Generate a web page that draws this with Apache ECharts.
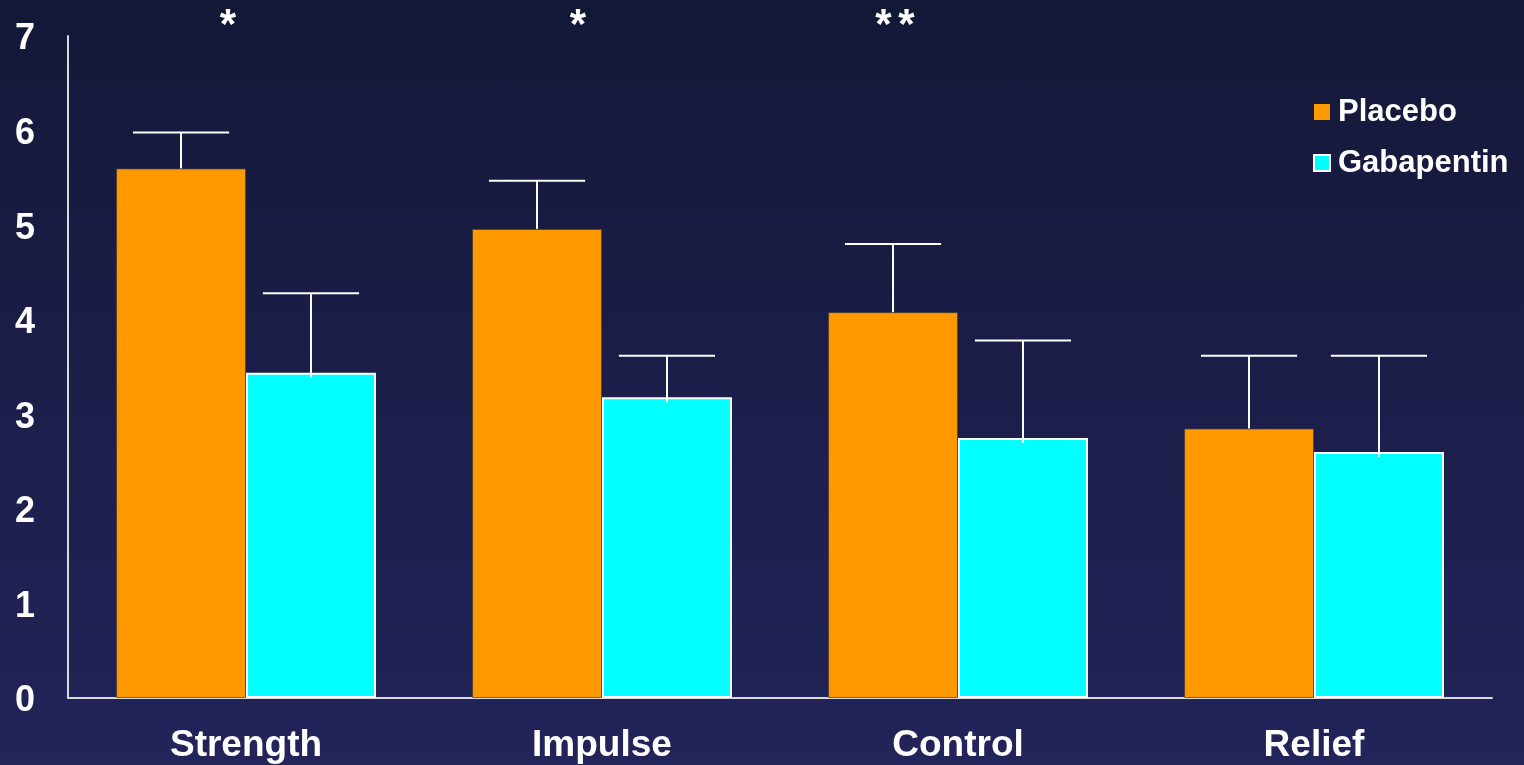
<!DOCTYPE html>
<html>
<head>
<meta charset="utf-8">
<title>Placebo vs Gabapentin</title>
<script src="https://cdn.jsdelivr.net/npm/echarts@6/dist/echarts.min.js"></script>
<style>
  html, body { margin: 0; padding: 0; }
  body { background: linear-gradient(to bottom, #141837 0%, #22245a 100%); }
  #chart { width: 1524px; height: 765px; }
</style>
</head>
<body>
<div id="chart"></div>
<script>
// Category labels and series values
const categories = ['Strength', 'Impulse', 'Control', 'Relief'];
const placebo = [5.6, 4.96, 4.08, 2.85];
const placeboErr = [0.38, 0.51, 0.72, 0.77];
const gabapentin = [3.44, 3.18, 2.75, 2.60];
const gabapentinErr = [0.84, 0.44, 1.03, 1.02];
const significance = ['*', '*', '**', ''];
const yTicks = [0, 1, 2, 3, 4, 5, 6, 7];

const FONT = "'Liberation Sans', Arial, Helvetica, sans-serif";
const BAR_FRAC = 0.365;            // bar width as a share of the category band
const STAR_SHIFT = [-18, -24, -63, 0]; // horizontal nudge of each significance mark
const STAR_STEP = 23;              // spacing between repeated stars

const chart = echarts.init(document.getElementById('chart'), null, { renderer: 'canvas' });

// Error bar drawn above a bar: stem from the mean to the upper limit, plus a cap
function errorBar(sideSign) {
  return function (params, api) {
    const cat = api.value(0);
    const top = api.coord([cat, api.value(2)]);
    const base = api.coord([cat, api.value(1)]);
    const band = api.size([1, 0])[0];
    const bw = band * BAR_FRAC;
    const cx = top[0] + sideSign * bw / 2;
    const cap = bw * 0.37;
    const style = { stroke: '#ffffff', lineWidth: 2 };
    return {
      type: 'group',
      children: [
        { type: 'line', shape: { x1: cx, y1: base[1] + (sideSign > 0 ? 5 : 0), x2: cx, y2: top[1] }, style },
        { type: 'line', shape: { x1: cx - cap, y1: top[1], x2: cx + cap, y2: top[1] }, style }
      ]
    };
  };
}

const placeboErrData = placebo.map((v, i) => [i, v, +(v + placeboErr[i]).toFixed(2)]);
const gabaErrData = gabapentin.map((v, i) => [i, v, +(v + gabapentinErr[i]).toFixed(2)]);
const starData = significance.map((s, i) => [i, 7]);

chart.setOption({
  backgroundColor: 'transparent',
  animation: false,
  grid: { left: 68, right: 32, top: 36, bottom: 67, containLabel: false },
  legend: {
    orient: 'vertical',
    left: 1313,
    top: 96,
    padding: 0,
    icon: 'rect',
    itemWidth: 16,
    itemHeight: 16,
    itemGap: 19,
    textStyle: { color: '#ffffff', fontFamily: FONT, fontWeight: 'bold', fontSize: 31, lineHeight: 32, padding: [0, 0, 0, 3] },
    data: [
      { name: 'Placebo', itemStyle: { borderWidth: 0 } },
      { name: 'Gabapentin', itemStyle: { borderColor: '#ffffff', borderWidth: 2 } }
    ]
  },
  xAxis: {
    type: 'category',
    data: categories,
    axisLine: { show: true, lineStyle: { color: '#d9d9d9', width: 2 } },
    axisTick: { show: false },
    axisLabel: { color: '#ffffff', fontFamily: FONT, fontWeight: 'bold', fontSize: 37, margin: 29 },
    splitLine: { show: false }
  },
  yAxis: {
    type: 'value',
    min: yTicks[0],
    max: yTicks[yTicks.length - 1],
    interval: 1,
    axisLine: { show: true, lineStyle: { color: '#d9d9d9', width: 2 } },
    axisTick: { show: false },
    splitLine: { show: false },
    axisLabel: {
      margin: 33,
      formatter: v => '{t|' + v + '}',
      rich: { t: { color: '#ffffff', fontFamily: FONT, fontWeight: 'bold', fontSize: 36, padding: [7, 0, 0, 0] } }
    }
  },
  series: [
    {
      name: 'Placebo',
      type: 'bar',
      data: placebo,
      barWidth: (BAR_FRAC * 100) + '%',
      barGap: '0%',
      itemStyle: { color: '#ff9900', borderColor: 'rgba(70,60,50,0.7)', borderWidth: 1 }
    },
    {
      name: 'Gabapentin',
      type: 'bar',
      data: gabapentin,
      barWidth: (BAR_FRAC * 100) + '%',
      barGap: '0%',
      itemStyle: { color: '#00ffff', borderColor: '#ffffff', borderWidth: 2 }
    },
    {
      type: 'custom',
      z: 5,
      clip: false,
      renderItem: errorBar(-1),
      encode: { x: 0, y: 2 },
      data: placeboErrData
    },
    {
      type: 'custom',
      z: 5,
      clip: false,
      renderItem: errorBar(1),
      encode: { x: 0, y: 2 },
      data: gabaErrData
    },
    {
      type: 'custom',
      z: 6,
      clip: false,
      encode: { x: 0, y: 1 },
      data: starData,
      renderItem: function (params, api) {
        const i = api.value(0);
        const p = api.coord([i, api.value(1)]);
        const marks = significance[i].split('');
        return {
          type: 'group',
          children: marks.map((m, j) => ({
            type: 'text',
            style: {
              x: p[0] + STAR_SHIFT[i] + (j - (marks.length - 1) / 2) * STAR_STEP,
              y: p[1] - 10,
              text: m,
              fill: '#ffffff',
              fontFamily: FONT,
              fontWeight: 'bold',
              fontSize: 42,
              align: 'center',
              verticalAlign: 'middle'
            }
          }))
        };
      }
    }
  ]
});
</script>
</body>
</html>
